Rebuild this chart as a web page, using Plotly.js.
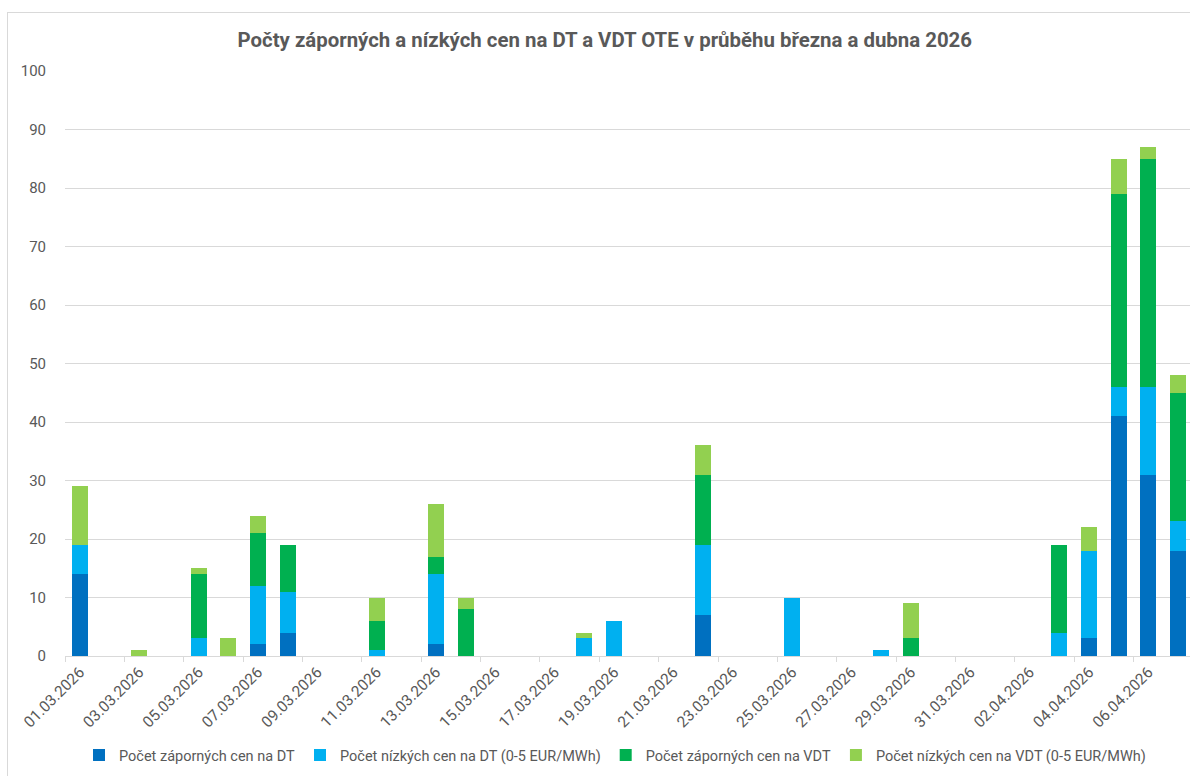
<!DOCTYPE html>
<html>
<head>
<meta charset="utf-8">
<script src="https://cdn.plot.ly/plotly-3.0.1.min.js"></script>
<style>
html,body{margin:0;padding:0;background:#fff;overflow:hidden;width:1190px;height:776px;}
#chart{position:absolute;left:0;top:0;width:1200px;height:776px;}
#frame{position:absolute;left:7px;top:12px;width:1300px;height:900px;border:1px solid #D9D9D9;pointer-events:none;}
</style>
</head>
<body>
<div id="chart"></div>
<div id="frame"></div>
<script>
const dates = ["01.03.2026","02.03.2026","03.03.2026","04.03.2026","05.03.2026","06.03.2026","07.03.2026","08.03.2026","09.03.2026","10.03.2026",
"11.03.2026","12.03.2026","13.03.2026","14.03.2026","15.03.2026","16.03.2026","17.03.2026","18.03.2026","19.03.2026","20.03.2026",
"21.03.2026","22.03.2026","23.03.2026","24.03.2026","25.03.2026","26.03.2026","27.03.2026","28.03.2026","29.03.2026","30.03.2026",
"31.03.2026","01.04.2026","02.04.2026","03.04.2026","04.04.2026","05.04.2026","06.04.2026","07.04.2026"];
const seriesNames = ["Počet záporných cen na DT","Počet nízkých cen na DT (0-5 EUR/MWh)","Počet záporných cen na VDT","Počet nízkých cen na VDT (0-5 EUR/MWh)"];
const dtNegative = [14,0,0,0,0,0,2,4,0,0, 0,0,2,0,0,0,0,0,0,0, 0,7,0,0,0,0,0,0,0,0, 0,0,0,0,3,41,31,18];
const dtLow      = [5,0,0,0,3,0,10,7,0,0, 1,0,12,0,0,0,0,3,6,0, 0,12,0,0,10,0,0,1,0,0, 0,0,0,4,15,5,15,5];
const vdtNegative= [0,0,0,0,11,0,9,8,0,0, 5,0,3,8,0,0,0,0,0,0, 0,12,0,0,0,0,0,0,3,0, 0,0,0,15,0,33,39,22];
const vdtLow     = [10,0,1,0,1,3,3,0,0,0, 4,0,9,2,0,0,0,1,0,0, 0,5,0,0,0,0,0,0,6,0, 0,0,0,0,4,6,2,3];
const colors = ["#0070C0","#00B0F0","#00B050","#92D050"];
const yTicks = [0,10,20,30,40,50,60,70,80,90,100];
const titleText = "Počty záporných a nízkých cen na DT a VDT OTE v průběhu března a dubna 2026";

const values = [dtNegative, dtLow, vdtNegative, vdtLow];
const traces = values.map((v,i)=>({
  type:"bar", x:dates, y:v, name:seriesNames[i],
  marker:{color:colors[i], line:{width:0}},
  hoverinfo:"x+y+name"
}));

const font = "Roboto, 'Liberation Sans', sans-serif";
const layout = {
  width:1200, height:776,
  barmode:"stack", bargap:0.46,
  paper_bgcolor:"#fff", plot_bgcolor:"#fff",
  margin:{l:65, r:7, t:71, b:120, autoexpand:false},
  font:{family:font, color:"#595959", size:15},
  title:{text:titleText, x:0.504, xanchor:"center", yref:"container", y:0.948, yanchor:"middle",
         font:{family:font, size:20.4, color:"#595959", weight:"bold"}},
  xaxis:{type:"category", tickmode:"linear", tick0:0, dtick:2, tickson:"boundaries",
         tickangle:-45, ticks:"outside", ticklen:5, tickcolor:"#D9D9D9", automargin:false,
         showline:true, linecolor:"#D9D9D9", linewidth:1, showgrid:false,
         tickfont:{size:15.5, color:"#595959"}, range:[-0.5, 37.5]},
  yaxis:{range:[0,100], tickvals:yTicks, showgrid:true, gridcolor:"#D9D9D9", gridwidth:1,
         zeroline:false, showline:false, ticks:"", ticklabelstandoff:18, automargin:false,
         tickfont:{size:15, color:"#595959"}},
  legend:{orientation:"h", x:0.4876, xanchor:"center", yref:"container", y:0.027, yanchor:"middle",
          font:{size:14.5, color:"#595959"}, traceorder:"normal", itemwidth:30},
  showlegend:true
};
Plotly.newPlot("chart", traces, layout, {displayModeBar:false, staticPlot:true});
</script>
</body>
</html>
